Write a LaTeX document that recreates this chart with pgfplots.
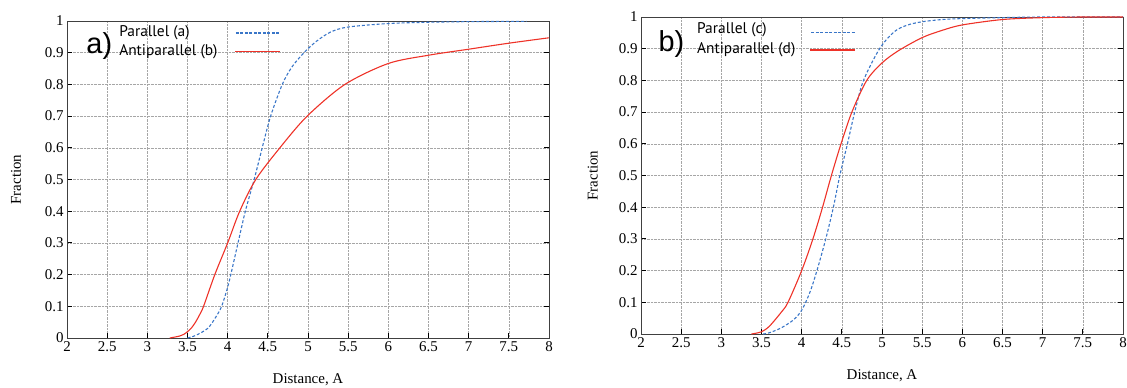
\documentclass[border=0pt]{standalone}
\usepackage{fontspec}
\setmainfont{Liberation Serif}
\newfontfamily\legendfont{PT Sans}
\newfontfamily\panelfont{Liberation Sans}
\usepackage{pgfplots}
\pgfplotsset{compat=1.18}
\definecolor{cblue}{RGB}{58,118,200}
\definecolor{cred}{RGB}{238,50,40}
\newcommand{\solidsample}{\textcolor{cred}{\rule[-0.6bp]{45bp}{1.2bp}}}
\newcommand{\dashsample}{\textcolor{cblue}{\hbox to 45bp{\xleaders\hbox to 4.5bp{\hss\rule[-0.6bp]{3bp}{1.2bp}\hss}\hfill}}}
\tikzset{
  bl/.style={draw=cblue, color=cblue, densely dashed, line width=1.1bp},
  rd/.style={draw=cred, color=cred, solid, line width=1.1bp},
  legtxt/.style={font=\legendfont\fontsize{15.5}{17}\selectfont, anchor=west, inner sep=0bp},
  legimg/.style={anchor=west, inner sep=0bp},
  panel/.style={font=\panelfont\fontsize{29}{30}\selectfont, anchor=center},
}
\pgfplotsset{
  myax/.style={
    scale only axis,
    width=482bp,
    height=317bp,
    xmin=2, xmax=8, ymin=0, ymax=1,
    xtick={2,2.5,...,8},
    ytick={0,0.1,...,1},
    xticklabels={2,2.5,3,3.5,4,4.5,5,5.5,6,6.5,7,7.5,8},
    yticklabels={0,0.1,0.2,0.3,0.4,0.5,0.6,0.7,0.8,0.9,1},
    xtick pos=bottom,
    ytick pos=both,
    tick align=inside,
    major tick length=5bp,
    tick style={black, line width=0.9bp},
    axis line style={black!75, line width=0.9bp},
    grid=major,
    major grid style={densely dotted, black!35, line width=0.5bp},
    every tick label/.append style={font=\rmfamily\fontsize{15}{17}\selectfont},
    /pgf/number format/assume math mode=true,
    label style={font=\rmfamily\fontsize{15}{17}\selectfont},
    xlabel={Distance, A},
    ylabel={Fraction},
    xlabel style={at={(axis description cs:0.5,-0.1325)}, anchor=center},
    clip=false,
  },
}
\begin{document}
\begin{tikzpicture}
\useasboundingbox (0,0) rectangle (1127bp,388bp);
\begin{axis}[myax, at={(67bp,50bp)}, anchor=south west,
  ylabel style={at={(axis description cs:-0.106,0.5)}, anchor=center}]
\addplot[bl, smooth] coordinates {
(3.5,0) (3.6,0.008) (3.75,0.03) (3.85,0.065) (3.925,0.10) (4.0,0.16) (4.03,0.19)
(4.12,0.29) (4.22,0.40) (4.33,0.50) (4.43,0.60) (4.535,0.70) (4.68,0.80)
(4.8,0.855) (4.95,0.90) (5.1,0.935) (5.28,0.965) (5.5,0.981) (6.0,0.992) (6.5,0.996)
(7.0,0.998) (7.72,0.999)};
\addplot[rd, smooth] coordinates {
(3.28,0) (3.4,0.006) (3.45,0.011) (3.5,0.02) (3.55,0.032) (3.6,0.05) (3.65,0.073) (3.7,0.10) (3.84,0.20)
(4.0,0.30) (4.15,0.40) (4.35,0.50) (4.65,0.60) (4.99,0.70) (5.46,0.80)
(6.0,0.866) (6.5,0.892) (7.0,0.911) (7.5,0.93) (8.0,0.947)};
\node[legtxt] at (axis description cs:0.108,0.963) {Parallel (a)};
\node[legtxt] at (axis description cs:0.108,0.902) {Antiparallel (b)};
\node[legimg] at (axis description cs:0.3485,0.962) {\dashsample};
\node[legimg] at (axis description cs:0.3485,0.905) {\solidsample};
\node[panel] at (axis description cs:0.067,0.92) {a)};
\end{axis}
\begin{axis}[myax, at={(641bp,54bp)}, anchor=south west,
  ylabel style={at={(axis description cs:-0.1,0.5)}, anchor=center}]
\addplot[bl, smooth] coordinates {
(3.52,0) (3.6,0.004) (3.75,0.02) (3.9,0.045) (4.0,0.075) (4.1,0.13) (4.19,0.20)
(4.30,0.30) (4.395,0.40) (4.475,0.50) (4.57,0.60) (4.66,0.70) (4.77,0.80)
(4.97,0.90) (5.15,0.953) (5.31,0.974) (5.5,0.985) (5.75,0.992) (6.0,0.995) (6.5,0.998) (7.0,1.0) (8.0,1.0)};
\addplot[rd, smooth] coordinates {
(3.375,0) (3.5,0.007) (3.6,0.025) (3.75,0.07) (3.83,0.10) (4.0,0.20) (4.14,0.30)
(4.26,0.40) (4.37,0.50) (4.49,0.60) (4.625,0.70) (4.81,0.80) (5.0,0.855)
(5.2,0.893) (5.5,0.935) (5.75,0.958) (6.0,0.975) (6.5,0.992) (7.0,0.998) (7.5,1.0) (8.0,1.0)};
\node[legtxt] at (axis description cs:0.116,0.959) {Parallel (c)};
\node[legtxt] at (axis description cs:0.116,0.896) {Antiparallel (d)};
\node[legimg] at (axis description cs:0.351,0.951) {\dashsample};
\node[legimg] at (axis description cs:0.351,0.896) {\solidsample};
\node[panel] at (axis description cs:0.063,0.915) {b)};
\end{axis}
\end{tikzpicture}
\end{document}
